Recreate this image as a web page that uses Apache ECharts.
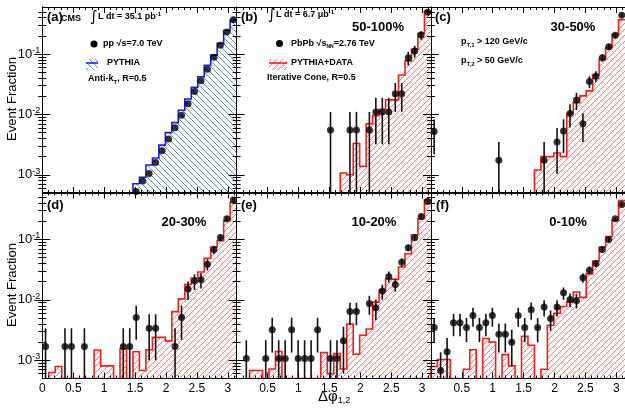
<!DOCTYPE html>
<html><head><meta charset="utf-8">
<script src="https://cdn.jsdelivr.net/npm/echarts@6/dist/echarts.min.js"></script>
<style>html,body{margin:0;padding:0;background:#fff}#c{width:625px;height:408px}</style>
</head><body><div id="c"></div>
<script>
// ---------------- data ----------------
const NB = 30;
const X_MAX = Math.PI;
const binWidth = X_MAX / NB;
const binCenters = Array.from({length: NB}, (_, i) => (i + 0.5) * binWidth);
const Y_MIN = 0.0005, Y_MAX = 0.6;
const xTickValues = [0, 0.5, 1, 1.5, 2, 2.5, 3];
const yTickValues = [0.001, 0.01, 0.1];
const panelLabels = ['(a)', '(b)', '(c)', '(d)', '(e)', '(f)'];
const centralityLabels = ['', '50-100%', '30-50%', '20-30%', '10-20%', '0-10%'];
const n = null;

// (a) pp data and PYTHIA
const ppData = [n,n,n,n,n,n,n,n,n,n,n,n,n,n, 5.3e-4,7.9e-4,1.05e-3,1.6e-3,2.5e-3,3.9e-3,6.0e-3,9.7e-3,0.015,0.024,0.036,0.056,0.088,0.139,0.231,0.37];
const ppPythia = [0,0,0,0,0,0,0,0,0,0,0,0,0,0, 7.1e-4,9.1e-4,1.45e-3,1.9e-3,3.1e-3,5.0e-3,7.3e-3,0.0117,0.018,0.028,0.042,0.065,0.096,0.15,0.245,0.36];

// (b) 50-100%
const bData = [n,n,n,n,n,n,n,n,n,n,n,n,n,n, 5.5e-3,n,n,5.5e-3,5.5e-3,n,5.5e-3,0.011,0.011,0.011,0.022,0.022,0.087,0.112,0.206,0.49];
const bErr  = [n,n,n,n,n,n,n,n,n,n,n,n,n,n, 5.5e-3,n,n,5.5e-3,5.5e-3,n,5.5e-3,7.8e-3,7.8e-3,7.8e-3,0.011,0.011,0.022,0.025,0.033,0.052];
const bHist = [0,0,0,0,0,0,0,0,0,0,0,0,0,0,0,0, 1.07e-3,1.0e-3,3.3e-3,1.38e-3,7.0e-3,9.5e-3,0.0122,0.0174,0.0174,0.045,0.077,0.12,0.22,0.51];

// (c) 30-50%
const cData = [5.2e-3,n,n,n,n,n,n,n,n,n, 1.74e-3,n,n,n,n,n,n, 1.74e-3,n, 3.5e-3,5.3e-3,0.0104,0.0173,7.0e-3,0.035,0.043,0.087,0.132,0.204,0.44];
const cErr  = [3.0e-3,n,n,n,n,n,n,n,n,n, 1.74e-3,n,n,n,n,n,n, 1.74e-3,n, 2.46e-3,3.0e-3,4.3e-3,5.5e-3,3.5e-3,7.8e-3,8.7e-3,0.0123,0.015,0.019,0.028];
const cHist = [0,0,0,0,0,0,0,0,0,0,0,0,0,0,0,0, 1.2e-3,2.0e-3,2.0e-3,2.3e-3,2.0e-3,0.0103,0.0157,0.0203,0.0245,0.045,0.082,0.127,0.21,0.37];

// (d) 20-30%
const dData = [1.7e-3,n,n,1.7e-3,1.7e-3,n,1.7e-3,n,n,n,n,n,1.7e-3,1.7e-3,5.1e-3,n,3.4e-3,3.4e-3,n,n,1.7e-3,5.1e-3,0.0151,0.0205,0.0216,0.039,0.068,0.108,0.22,0.45];
const dErr  = [1.7e-3,n,n,1.7e-3,1.7e-3,n,1.7e-3,n,n,n,n,n,1.7e-3,1.7e-3,2.9e-3,n,2.4e-3,2.4e-3,n,n,1.7e-3,2.9e-3,5.1e-3,5.9e-3,6.1e-3,8.2e-3,0.0107,0.0136,0.019,0.028];
const dHist = [0,6.3e-4,7.9e-4,0,0,0,0,0,1.48e-3,8.1e-4,8.1e-4,0,1.55e-3,0,1.39e-3,6.8e-4,1.5e-3,2.4e-3,2.4e-3,2.1e-3,6.4e-3,0.0104,0.018,0.023,0.029,0.049,0.075,0.096,0.205,0.41];

// (e) 10-20%
const eData = [n,1.07e-3,n,n,1.07e-3,3.2e-3,1.07e-3,1.07e-3,3.2e-3,1.07e-3,1.07e-3,1.07e-3,3.2e-3,n,1.07e-3,1.07e-3,2.1e-3,6.4e-3,6.4e-3,n,8.7e-3,7.4e-3,0.014,0.0245,0.018,0.042,0.073,0.107,0.24,0.425];
const eErr  = [n,1.07e-3,n,n,1.07e-3,1.85e-3,1.07e-3,1.07e-3,1.85e-3,1.07e-3,1.07e-3,1.07e-3,1.85e-3,n,1.07e-3,1.07e-3,1.5e-3,2.6e-3,2.6e-3,n,3.0e-3,2.8e-3,3.9e-3,5.1e-3,4.4e-3,6.7e-3,8.8e-3,0.0107,0.016,0.021];
const eHist = [0,0,6.8e-4,6.8e-4,0,7.2e-4,1.4e-3,0,0,0,0,0,0,1.35e-3,6.0e-4,1.29e-3,7.2e-4,4.0e-3,1.26e-3,2.6e-3,3.3e-3,9.2e-3,0.0144,0.0224,0.022,0.035,0.058,0.12,0.22,0.46];

// (f) 0-10%
const fData = [3.5e-3,6.8e-4,1.38e-3,4.2e-3,4.2e-3,3.5e-3,5.5e-3,3.5e-3,4.2e-3,5.5e-3,2.7e-3,2.7e-3,2.0e-3,5.5e-3,3.5e-3,6.9e-3,3.5e-3,7.6e-3,4.9e-3,7.6e-3,0.0131,0.0102,0.0098,0.0233,0.031,0.040,0.068,0.10,0.22,0.38];
const fErr  = [1.5e-3,6.8e-4,9.7e-4,1.7e-3,1.7e-3,1.5e-3,1.9e-3,1.5e-3,1.7e-3,1.9e-3,1.35e-3,1.35e-3,1.2e-3,1.9e-3,1.5e-3,2.2e-3,1.5e-3,2.3e-3,1.8e-3,2.3e-3,3.0e-3,2.6e-3,2.6e-3,4.0e-3,4.6e-3,5.2e-3,6.8e-3,8.2e-3,0.012,0.016];
const fHist = [7.9e-4,1.03e-3,1.03e-3,0,0,7.1e-4,1.5e-3,0,2.3e-3,2.0e-3,0,1.24e-3,8.1e-4,0,2.5e-3,1.78e-3,0,7.1e-4,3.8e-3,6.0e-3,7.8e-3,9.2e-3,0.0135,0.011,0.027,0.044,0.075,0.112,0.21,0.44];

const panelData = [ppData, bData, cData, dData, eData, fData];
const panelErr  = [null, bErr, cErr, dErr, eErr, fErr];
const panelHist = [ppPythia, bHist, cHist, dHist, eHist, fHist];

// ---------------- layout / style ----------------
const FONT = 'Liberation Sans';
const L0 = 42.3, PW = 194.3;
const rowTop = [7, 192.5], PH = 186;
function gridRect(i) { const c = i % 3, r = Math.floor(i / 3); return {left: L0 + c * PW, top: rowTop[r], width: PW, height: PH}; }

function hatch(color, dir) {
  const s = 6, cv = document.createElement('canvas');
  cv.width = s; cv.height = s;
  const ctx = cv.getContext('2d');
  ctx.strokeStyle = color; ctx.lineWidth = 1;
  ctx.beginPath();
  if (dir === '/') {
    ctx.moveTo(-1, 1); ctx.lineTo(1, -1);
    ctx.moveTo(0, s); ctx.lineTo(s, 0);
    ctx.moveTo(s - 1, s + 1); ctx.lineTo(s + 1, s - 1);
  } else {
    ctx.moveTo(0, 0); ctx.lineTo(s, s);
    ctx.moveTo(s - 1, -1); ctx.lineTo(s + 1, 1);
    ctx.moveTo(-1, s - 1); ctx.lineTo(1, s + 1);
  }
  ctx.stroke();
  return cv;
}
const blueHatch = hatch('#5a8fd0', '\\');
const redHatch = hatch('#ff7a7a', '/');

const xMinor = [], yMinor = [];
for (let k = 1; k <= 31; k++) { if (k % 5) xMinor.push(k / 10); }
[1e-4, 1e-3, 1e-2, 1e-1].forEach(d => { for (let k = 2; k <= 9; k++) { const v = +(k * d).toPrecision(3); if (v > Y_MIN && v < Y_MAX && k !== 1) yMinor.push(v); } });

const grids = [], xAxes = [], yAxes = [], series = [];
for (let gi = 0; gi < 6; gi++) {
  grids.push(gridRect(gi));
  const row = Math.floor(gi / 3), col = gi % 3;
  const xLabelVals = row === 1 ? (col === 0 ? xTickValues : xTickValues.slice(1)) : [];
  const baseX = {type: 'value', gridIndex: gi, min: 0, max: X_MAX, z: 5, splitLine: {show: false}};
  const baseY = {type: 'log', logBase: 10, gridIndex: gi, min: Y_MIN, max: Y_MAX, z: 5, splitLine: {show: false}};
  const line = {show: true, lineStyle: {color: '#000', width: 1}};
  // x axes: bottom major / bottom minor / top major / top minor
  xAxes.push(Object.assign({}, baseX, {position: 'bottom', axisLine: line,
    axisTick: {show: true, inside: true, length: 6, customValues: xTickValues, lineStyle: {color: '#000'}},
    axisLabel: {show: xLabelVals.length > 0, customValues: xLabelVals, margin: 4, color: '#000', fontFamily: FONT, fontSize: 12, formatter: v => String(v)}}));
  xAxes.push(Object.assign({}, baseX, {position: 'bottom', axisLine: {show: false},
    axisTick: {show: true, inside: true, length: 3, customValues: xMinor, lineStyle: {color: '#000'}}, axisLabel: {show: false}}));
  xAxes.push(Object.assign({}, baseX, {position: 'top', axisLine: line,
    axisTick: {show: true, inside: true, length: 6, customValues: xTickValues, lineStyle: {color: '#000'}}, axisLabel: {show: false}}));
  xAxes.push(Object.assign({}, baseX, {position: 'top', axisLine: {show: false},
    axisTick: {show: true, inside: true, length: 3, customValues: xMinor, lineStyle: {color: '#000'}}, axisLabel: {show: false}}));
  // y axes
  yAxes.push(Object.assign({}, baseY, {position: 'left', axisLine: line,
    axisTick: {show: true, inside: true, length: 8, customValues: yTickValues, lineStyle: {color: '#000'}},
    axisLabel: {show: col === 0, customValues: yTickValues, margin: 2, color: '#000',
      formatter: v => '{b|10}{s|' + Math.round(Math.log10(v)) + '}',
      rich: {b: {fontFamily: FONT, fontSize: 13, color: '#000', lineHeight: 16}, s: {fontFamily: FONT, fontSize: 9, color: '#000', verticalAlign: 'top', lineHeight: 10}}}}));
  yAxes.push(Object.assign({}, baseY, {position: 'left', axisLine: {show: false},
    axisTick: {show: true, inside: true, length: 4, customValues: yMinor, lineStyle: {color: '#000'}}, axisLabel: {show: false}}));
  yAxes.push(Object.assign({}, baseY, {position: 'right', axisLine: line,
    axisTick: {show: true, inside: true, length: 8, customValues: yTickValues, lineStyle: {color: '#000'}}, axisLabel: {show: false}}));
  yAxes.push(Object.assign({}, baseY, {position: 'right', axisLine: {show: false},
    axisTick: {show: true, inside: true, length: 4, customValues: yMinor, lineStyle: {color: '#000'}}, axisLabel: {show: false}}));

  const xi = gi * 4, yi = gi * 4;
  const hist = panelHist[gi];
  const isPP = gi === 0;
  const lineColor = isPP ? '#1a1aff' : '#ff1a1a';
  const pat = isPP ? blueHatch : redHatch;
  // histogram
  series.push({
    type: 'custom', xAxisIndex: xi, yAxisIndex: yi, silent: true, z: 2, clip: true,
    data: [0],
    renderItem: (params, api) => {
      const base0 = api.coord([0, Y_MIN]), base1 = api.coord([X_MAX, Y_MIN]);
      const poly = [base0];
      const outline = [];
      let first = hist.findIndex(v => v > 0);
      for (let i = 0; i < NB; i++) {
        const v = Math.max(hist[i], Y_MIN);
        const p0 = api.coord([i * binWidth, v]), p1 = api.coord([(i + 1) * binWidth, v]);
        poly.push(p0, p1);
        if (i >= first) {
          if (i === first) outline.push(api.coord([i * binWidth, Y_MIN]));
          outline.push(p0, p1);
        }
      }
      poly.push(base1);
      return {type: 'group', children: [
        {type: 'polygon', shape: {points: poly}, style: {fill: {image: pat, repeat: 'repeat'}, stroke: null}},
        {type: 'polyline', shape: {points: outline}, style: {stroke: lineColor, lineWidth: 1.6, fill: null}}
      ]};
    }
  });
  // error bars
  const err = panelErr[gi];
  if (err) {
    const eData = [];
    panelData[gi].forEach((v, i) => { if (v != null) eData.push([binCenters[i], v, err[i]]); });
    series.push({
      type: 'custom', xAxisIndex: xi, yAxisIndex: yi, silent: true, z: 3, clip: true,
      data: eData,
      renderItem: (params, api) => {
        const x = api.value(0), v = api.value(1), e = api.value(2);
        const lo = Math.max(v - e, Y_MIN), hi = Math.min(v + e, Y_MAX);
        const p0 = api.coord([x, lo]), p1 = api.coord([x, hi]);
        return {type: 'line', shape: {x1: p0[0], y1: p0[1], x2: p1[0], y2: p1[1]}, style: {stroke: '#111', lineWidth: 1.6}};
      }
    });
  }
  // points
  const pts = [];
  panelData[gi].forEach((v, i) => { if (v != null) pts.push([binCenters[i], v]); });
  series.push({type: 'scatter', xAxisIndex: xi, yAxisIndex: yi, silent: true, z: 4,
    symbol: 'circle', symbolSize: 7, itemStyle: {color: '#000'}, data: pts});
}

// ---------------- annotations ----------------
const T = (x, y, text, opt) => Object.assign({type: 'text', x, y, z: 100, style: Object.assign({text, fill: '#000', font: 'bold 9px "' + FONT + '"', textVerticalAlign: 'middle'}, opt || {})});
const B = size => 'bold ' + size + 'px "' + FONT + '"';
const graphics = [];
// panel letters & centralities
const letterPos = [[47, 17], [241, 17], [435, 17], [47, 205], [241, 205], [436, 205]];
const centPos = [[0, 0], [378, 27], [573, 27], [184, 222], [374, 222], [568, 222]];
for (let i = 0; i < 6; i++) {
  graphics.push(T(letterPos[i][0], letterPos[i][1], panelLabels[i], {font: B(13)}));
  if (centralityLabels[i]) graphics.push(T(centPos[i][0], centPos[i][1], centralityLabels[i], {font: B(13), textAlign: 'center'}));
}
// (a)
graphics.push(T(61, 19, 'CMS', {font: B(9)}));
graphics.push(T(90, 17, '\u222B', {font: '15px "DejaVu Sans"'}));
graphics.push({type: 'text', x: 98, y: 17, z: 100, style: {text: '{m|L dt = 35.1 pb}{s|-1}', textVerticalAlign: 'middle', rich: {m: {font: B(9), lineHeight: 12}, s: {font: B(6), verticalAlign: 'top', lineHeight: 8}}}});
graphics.push({type: 'circle', shape: {cx: 94, cy: 44, r: 3.5}, style: {fill: '#000'}, z: 100});
graphics.push({type: 'text', x: 103, y: 44, z: 100, style: {text: '{m|pp }{m|\u221As}{m|=7.0 TeV}', textVerticalAlign: 'middle', rich: {m: {font: B(9)}}}});
graphics.push({type: 'rect', shape: {x: 86, y: 59, width: 12, height: 11}, style: {fill: {image: blueHatch, repeat: 'repeat'}}, z: 100});
graphics.push({type: 'line', shape: {x1: 86, y1: 63, x2: 98, y2: 63}, style: {stroke: '#1a1aff', lineWidth: 1.6}, z: 101});
graphics.push(T(107, 63, 'PYTHIA'));
graphics.push({type: 'text', x: 88, y: 79, z: 100, style: {text: '{m|Anti-k}{s|T}{m|, R=0.5}', textVerticalAlign: 'middle', rich: {m: {font: B(9), lineHeight: 12}, s: {font: B(6), verticalAlign: 'bottom', lineHeight: 8}}}});
// (b)
graphics.push(T(268, 15, '\u222B', {font: '15px "DejaVu Sans"'}));
graphics.push({type: 'text', x: 276, y: 15, z: 100, style: {text: '{m|L dt = 6.7 \u03BCb}{s|-1}', textVerticalAlign: 'middle', rich: {m: {font: B(9), lineHeight: 12}, s: {font: B(6), verticalAlign: 'top', lineHeight: 8}}}});
graphics.push({type: 'circle', shape: {cx: 279.5, cy: 43.5, r: 3.5}, style: {fill: '#000'}, z: 100});
graphics.push({type: 'text', x: 291, y: 43.5, z: 100, style: {text: '{m|PbPb \u221As}{s|NN}{m|=2.76 TeV}', textVerticalAlign: 'middle', rich: {m: {font: B(9), lineHeight: 12}, s: {font: B(5), verticalAlign: 'bottom', lineHeight: 8}}}});
graphics.push({type: 'rect', shape: {x: 269, y: 59, width: 18, height: 11}, style: {fill: {image: redHatch, repeat: 'repeat'}}, z: 100});
graphics.push({type: 'line', shape: {x1: 269, y1: 63, x2: 287, y2: 63}, style: {stroke: '#ff1a1a', lineWidth: 1.6}, z: 101});
graphics.push(T(291, 63, 'PYTHIA+DATA'));
graphics.push(T(267, 78, 'Iterative Cone, R=0.5'));
// (c)
graphics.push({type: 'text', x: 461, y: 42, z: 100, style: {text: '{m|p}{s|T,1}{m| > 120 GeV/c}', textVerticalAlign: 'middle', rich: {m: {font: B(9), lineHeight: 12}, s: {font: B(6), verticalAlign: 'bottom', lineHeight: 8}}}});
graphics.push({type: 'text', x: 461, y: 61, z: 100, style: {text: '{m|p}{s|T,2}{m| > 50 GeV/c}', textVerticalAlign: 'middle', rich: {m: {font: B(9), lineHeight: 12}, s: {font: B(6), verticalAlign: 'bottom', lineHeight: 8}}}});
// axis titles
graphics.push({type: 'text', x: 12, y: 99, rotation: Math.PI / 2, z: 100, style: {text: 'Event Fraction', font: '13px "' + FONT + '"', fill: '#000', textAlign: 'center', textVerticalAlign: 'middle'}});
graphics.push({type: 'text', x: 12, y: 285, rotation: Math.PI / 2, z: 100, style: {text: 'Event Fraction', font: '13px "' + FONT + '"', fill: '#000', textAlign: 'center', textVerticalAlign: 'middle'}});
graphics.push({type: 'text', x: 318, y: 397, z: 100, style: {text: '{m|\u0394\u03C6}{s|1,2}', textVerticalAlign: 'middle', rich: {m: {font: '15px "' + FONT + '"', lineHeight: 16}, s: {font: '9px "' + FONT + '"', verticalAlign: 'bottom', lineHeight: 10}}}});

const chart = echarts.init(document.getElementById('c'), null, {renderer: 'canvas'});
chart.setOption({
  animation: false,
  backgroundColor: '#fff',
  grid: grids, xAxis: xAxes, yAxis: yAxes, series: series,
  graphic: {elements: graphics}
});
</script>
</body></html>
